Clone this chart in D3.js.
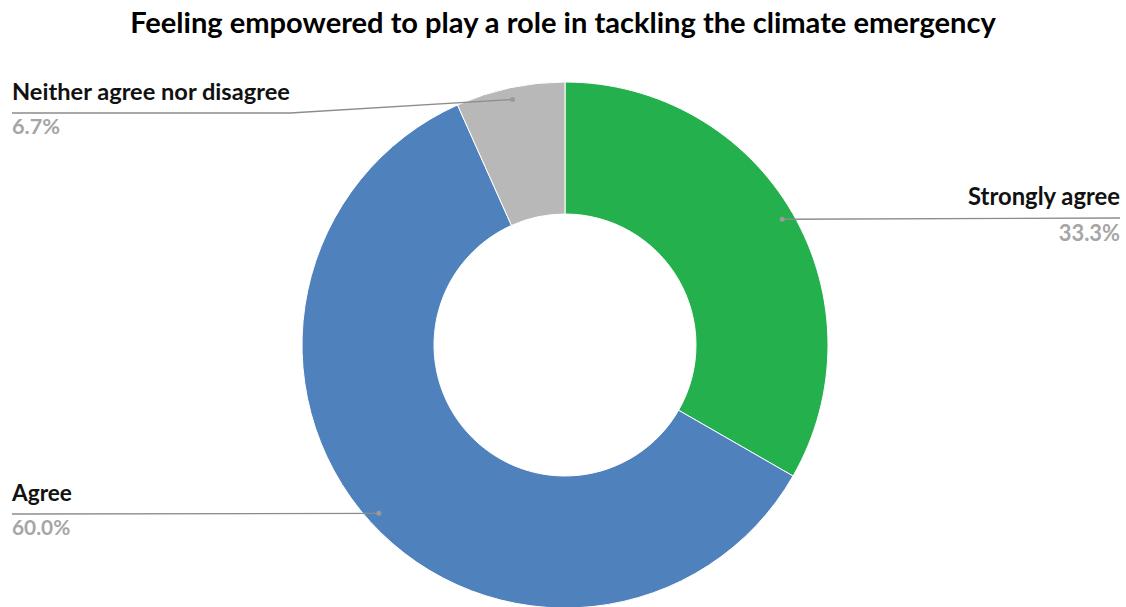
<!DOCTYPE html>
<html>
<head>
<meta charset="utf-8">
<script src="https://cdn.jsdelivr.net/npm/d3@7"></script>
<style>
html,body{margin:0;padding:0;background:#fff;}
svg{display:block;}
text{font-family:Lato,"Open Sans",sans-serif;}
</style>
</head>
<body>
<svg id="chart" width="1126" height="607"></svg>
<script>
const title = "Feeling empowered to play a role in tackling the climate emergency";
const categories = ["Strongly agree", "Agree", "Neither agree nor disagree"];
const values = [33.3, 60.0, 6.7];
const percentLabels = ["33.3%", "60.0%", "6.7%"];
const colors = ["#24b04c", "#4f81bd", "#b8b8b8"];

const W = 1126, H = 607;
const cx = 565, cy = 345, R = 263, r = 131, rDot = 251;
const svg = d3.select("#chart");

function fit(sel, target) {
  const n = sel.node();
  const fs = parseFloat(sel.attr("font-size"));
  const w = n.getComputedTextLength();
  sel.attr("font-size", fs * target / w);
}

const t = svg.append("text").attr("x", W / 2).attr("y", 33)
  .attr("text-anchor", "middle").attr("font-weight", "bold")
  .attr("font-size", 24).attr("fill", "#000").text(title);
fit(t, 866);

const pie = d3.pie().sort(null).value(d => d);
const arcs = pie(values);
const arc = d3.arc().innerRadius(r).outerRadius(R);
const g = svg.append("g").attr("transform", `translate(${cx},${cy})`);
g.selectAll("path").data(arcs).join("path")
  .attr("d", arc).attr("fill", (d, i) => colors[i])
  .attr("stroke", "#fff").attr("stroke-width", 1);

const labelCfg = [
  { side: "right", lineY: 218, nameY: 205, pctY: 241, nameW: 152 },
  { side: "left", lineY: 514, nameY: 501, pctY: 535, nameW: 60 },
  { side: "left", lineY: 113, nameY: 100, pctY: 134, nameW: 278, elbow: 290 }
];
const dotArc = d3.arc().innerRadius(rDot).outerRadius(rDot);

arcs.forEach((a, i) => {
  const c = labelCfg[i];
  const [dx, dy] = dotArc.centroid(a);
  const px = cx + dx, py = cy + dy;
  const edgeX = c.side === "right" ? 1120 : 12;
  let pts;
  if (c.elbow) pts = [[px, py], [c.elbow, c.lineY], [edgeX, c.lineY]];
  else pts = [[px, py], [edgeX, c.lineY]];
  svg.append("path").attr("d", d3.line()(pts))
    .attr("fill", "none").attr("stroke", "#8c8c8c").attr("stroke-width", 1.3);
  svg.append("circle").attr("cx", px).attr("cy", py).attr("r", 2.5).attr("fill", "#9a9a9a");
  const anchor = c.side === "right" ? "end" : "start";
  const nt = svg.append("text").attr("x", edgeX).attr("y", c.nameY)
    .attr("text-anchor", anchor).attr("font-weight", "bold")
    .attr("font-size", 17).attr("fill", "#111").text(categories[i]);
  fit(nt, c.nameW);
  svg.append("text").attr("x", edgeX).attr("y", c.pctY)
    .attr("text-anchor", anchor).attr("font-weight", "bold")
    .attr("font-size", parseFloat(nt.attr("font-size")) * 0.92)
    .attr("fill", "#a6a6a6").text(percentLabels[i]);
});
</script>
</body>
</html>
